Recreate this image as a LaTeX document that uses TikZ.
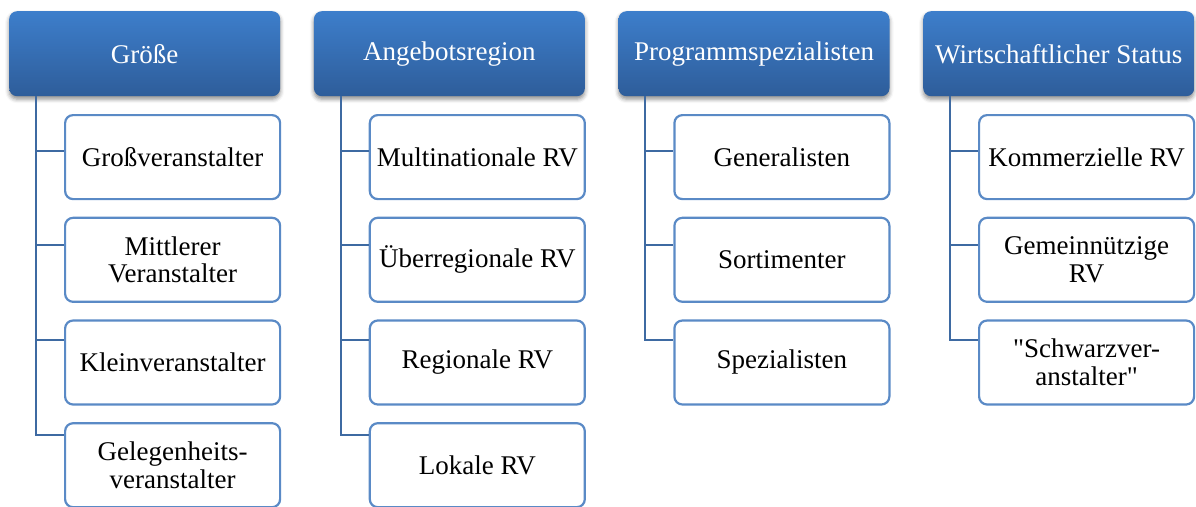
\documentclass[tikz,border=0pt]{standalone}
\usepackage{fontspec}
\setmainfont{Liberation Serif}
\newfontfamily\plainq{Liberation Serif}
\usetikzlibrary{calc,shadows.blur}
\definecolor{hdtop}{HTML}{3D7ECB}
\definecolor{hdbot}{HTML}{2E5D9A}
\definecolor{kidline}{HTML}{5A8AC6}
\definecolor{conn}{HTML}{3E6AA2}
\newcommand{\sq}{{\plainq"}}
\tikzset{
  hdr/.style={rectangle, rounded corners=8pt, top color=hdtop, bottom color=hdbot,
    draw=none, minimum width=271pt, minimum height=85pt, inner sep=0pt,
    text=white, font=\fontsize{27}{28}\selectfont, anchor=north west,
    blur shadow={shadow xshift=0pt, shadow yshift=-3pt, shadow blur radius=4pt, shadow opacity=45}},
  kid/.style={rectangle, rounded corners=8pt, draw=kidline, line width=2.2pt, fill=white,
    minimum width=215pt, minimum height=84pt, inner sep=0pt, align=center,
    text=black, font=\fontsize{27}{27.5}\selectfont, anchor=north west},
  connline/.style={draw=conn, line width=2pt}
}
\begin{document}
\begin{tikzpicture}[x=1pt,y=-1pt]
\useasboundingbox (0,0) rectangle (1196,506);
\clip (0,0) rectangle (1196,506);
% headers
\node[hdr] (h1) at (9,11) {Größe};
\node[hdr] (h2) at (313.7,11) {Angebotsregion};
\node[hdr] (h3) at (618.3,11) {Programmspezialisten};
\node[hdr] (h4) at (923,11) {Wirtschaftlicher Status};
% children column 1
\node[kid] (k11) at (64,114) {Großveranstalter};
\node[kid] (k12) at (64,216.7) {Mittlerer\\Veranstalter};
\node[kid] (k13) at (64,319.4) {Kleinveranstalter};
\node[kid] (k14) at (64,422.1) {Gelegenheits-\\veranstalter};
% column 2
\node[kid] (k21) at (368.7,114) {Multinationale RV};
\node[kid] (k22) at (368.7,216.7) {Überregionale RV};
\node[kid] (k23) at (368.7,319.4) {Regionale RV};
\node[kid] (k24) at (368.7,422.1) {Lokale RV};
% column 3
\node[kid] (k31) at (673.3,114) {Generalisten};
\node[kid] (k32) at (673.3,216.7) {Sortimenter};
\node[kid] (k33) at (673.3,319.4) {Spezialisten};
% column 4
\node[kid] (k41) at (978,114) {Kommerzielle RV};
\node[kid] (k42) at (978,216.7) {Gemeinnützige\\RV};
\node[kid] (k43) at (978,319.4) {\sq Schwarzver-\\anstalter\sq};
% connectors
\foreach \c/\m in {1/4,2/4,3/3,4/3} {
  \coordinate (v\c) at ($(h\c.south west)+(27,0)$);
  \foreach \i/\off in {1/37,2/28.5,3/21,4/13} {
    \ifnum\i>\m\relax\else
      \coordinate (t\c\i) at ($(k\c\i.north west)+(0,\off)$);
    \fi
  }
  \draw[connline] (v\c) |- (t\c\m);
  \foreach \i in {1,...,\m} {
    \draw[connline] (v\c |- t\c\i) -- (t\c\i);
  }
}
\end{tikzpicture}
\end{document}
